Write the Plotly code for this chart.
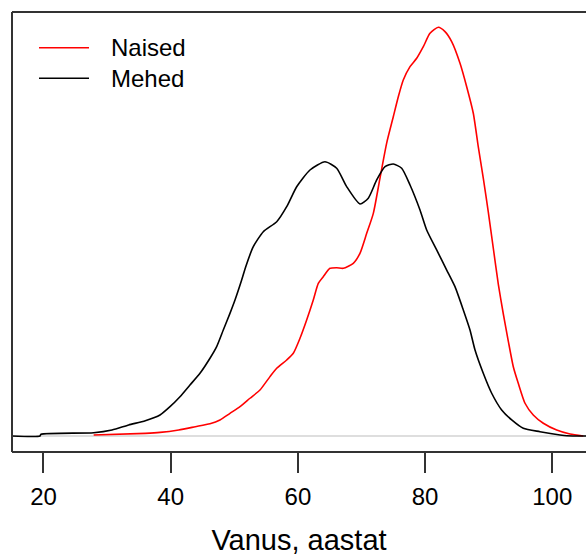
import plotly.graph_objects as go

# ---- data ----
series_names = ["Naised", "Mehed"]
series_colors = ["#FF0000", "#000000"]

mehed_age = [15.05, 19.45, 19.61, 27.89, 30.77, 33.40, 36.01, 38.32, 39.89, 41.46, 43.03,
             44.61, 46.18, 47.23, 48.27, 49.32, 50.11, 51.16, 51.84, 52.99, 54.56, 56.67,
             58.24, 59.81, 61.90, 64.26, 66.10, 67.67, 69.76, 71.07, 72.39, 73.70, 75.00,
             76.32, 77.63, 79.20, 80.25, 81.82, 83.40, 84.70, 86.01, 87.06, 87.85, 89.15,
             90.47, 92.04, 93.62, 95.44, 98.07, 101.21, 102.26, 105.3]
mehed_dens = [0.0, 0.0, 0.00017, 0.00032, 0.00059, 0.00108, 0.00150, 0.00206, 0.00287,
              0.00385, 0.00500, 0.00615, 0.00762, 0.00876, 0.01039, 0.01202, 0.01333,
              0.01529, 0.01667, 0.01856, 0.02003, 0.02101, 0.02248, 0.02444, 0.02608,
              0.02689, 0.02625, 0.02445, 0.02275, 0.02331, 0.02510, 0.02640, 0.02667,
              0.02625, 0.02461, 0.02216, 0.02020, 0.01824, 0.01627, 0.01464, 0.01235,
              0.01039, 0.00843, 0.00615, 0.00419, 0.00255, 0.00157, 0.00075, 0.00042,
              0.0001, 0.00002, 0.0]

naised_age = [27.89, 36.01, 38.32, 41.26, 43.87, 46.18, 47.75, 49.32, 50.90, 52.47, 54.04,
              55.61, 56.67, 58.24, 59.28, 60.33, 61.38, 62.42, 63.21, 63.99, 65.05, 66.10,
              67.14, 68.71, 69.76, 70.82, 71.86, 72.91, 73.96, 75.00, 75.79, 76.57, 77.63,
              78.68, 79.72, 80.77, 82.08, 83.13, 84.18, 85.49, 86.54, 87.58, 88.36, 89.15,
              89.94, 90.72, 91.51, 92.30, 93.08, 93.87, 94.65, 95.71, 97.01,
              98.59, 100.69, 102.78, 104.87]
naised_dens = [0.0001, 0.00026, 0.00035, 0.00059, 0.00091, 0.00120, 0.00157, 0.00222,
               0.00287, 0.00370, 0.00451, 0.00582, 0.00664, 0.00745, 0.00811, 0.00958,
               0.01137, 0.01333, 0.01497, 0.01562, 0.01644, 0.01650, 0.01644, 0.01693,
               0.01791, 0.01987, 0.02183, 0.02529, 0.02872, 0.03130, 0.03326, 0.03490,
               0.03621, 0.03703, 0.03817, 0.03948, 0.04007, 0.03964, 0.03866, 0.03654,
               0.03424, 0.03164, 0.02836, 0.02529,
               0.02196, 0.01843, 0.01490, 0.01196, 0.00931, 0.00679, 0.00517, 0.00321,
               0.00206, 0.00125, 0.00059, 0.0002, 0.0]

x_ticks = [20, 40, 60, 80, 100]
x_title = "Vanus, aastat"
x_range = [15.05, 105.3]
y_range = [-0.00157, 0.04157]

FONT = "Liberation Sans, Arial, sans-serif"
AX = "#333333"

fig = go.Figure()
fig.add_trace(go.Scatter(x=naised_age, y=naised_dens, mode="lines", name=series_names[0],
                         line=dict(color=series_colors[0], width=1.6, shape="spline",
                                   smoothing=0.6), showlegend=False))
fig.add_trace(go.Scatter(x=mehed_age, y=mehed_dens, mode="lines", name=series_names[1],
                         line=dict(color=series_colors[1], width=1.6, shape="spline",
                                   smoothing=0.6), showlegend=False))

shapes = [
    # zero density line
    dict(type="line", xref="paper", yref="y", x0=0, x1=1, y0=0, y1=0,
         line=dict(color="#BEBEBE", width=1.2), layer="below"),
    # box: left, top, bottom (right side falls outside the picture)
    dict(type="line", xref="paper", yref="paper", x0=0, x1=0, y0=0, y1=1,
         line=dict(color=AX, width=2)),
    dict(type="line", xref="paper", yref="paper", x0=0, x1=1, y0=1, y1=1,
         line=dict(color=AX, width=2)),
    dict(type="line", xref="paper", yref="paper", x0=0, x1=1, y0=0, y1=0,
         line=dict(color=AX, width=2)),
]

# manual legend (R style)
W, H = 586, 557
L, R, T, B = 12, 0, 12, 105
pw, ph = W - L - R, H - T - B
def px_x(p):
    return (p - L) / pw
def px_y(p):
    return 1 - (p - T) / ph

annotations = []
for i, (nm, col) in enumerate(zip(series_names, series_colors)):
    yy = 47.7 + i * 30.6
    shapes.append(dict(type="line", xref="paper", yref="paper",
                       x0=px_x(39), x1=px_x(89), y0=px_y(yy), y1=px_y(yy),
                       line=dict(color=col, width=1.6)))
    annotations.append(dict(text=nm, xref="paper", yref="paper", x=px_x(109), y=px_y(yy),
                            xanchor="left", yanchor="middle", showarrow=False,
                            font=dict(family=FONT, size=24, color="#000000")))

fig.update_layout(
    width=W, height=H,
    margin=dict(l=L, r=R, t=T, b=B, pad=0),
    paper_bgcolor="white", plot_bgcolor="white",
    font=dict(family=FONT, size=24, color="#000000"),
    shapes=shapes, annotations=annotations,
    xaxis=dict(range=x_range, tickvals=x_ticks, ticktext=[str(t) for t in x_ticks],
               showgrid=False, zeroline=False, showline=False,
               ticks="outside", ticklen=20, tickwidth=2, tickcolor=AX,
               ticklabelstandoff=3,
               tickfont=dict(family=FONT, size=24, color="#000000"),
               title=dict(text=x_title, font=dict(family=FONT, size=29, color="#000000"),
                          standoff=20)),
    yaxis=dict(range=y_range, showgrid=False, zeroline=False, showline=False,
               showticklabels=False, ticks=""),
)

fig.write_html("out.html")
